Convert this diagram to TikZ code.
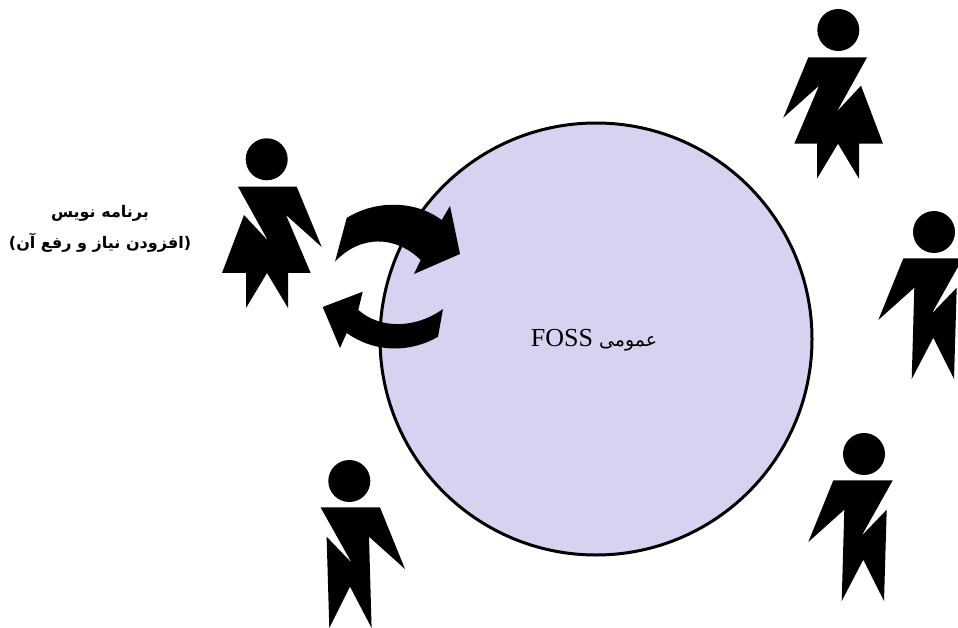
\documentclass[tikz,border=0pt]{standalone}
\usepackage{fontspec}
\setmainfont{Liberation Serif}
\newfontfamily\arabicfont[Script=Arabic]{DejaVu Sans}
\TeXXeTstate=1
\definecolor{foss}{RGB}{214,210,240}
\tikzset{
 figure/.style={fill=black,draw=none},
 turn/.style={fill=black,draw=none},
 pool/.style={fill=foss,draw=black,line width=3pt},
 woman/.pic={
  \fill[figure] (0,0) circle (21);
  \fill[figure] (-28.7,27.4) -- (30,27.4) -- (55,87.7) -- (19.3,55.7) -- (44,113.7) -- (21.3,113.7) -- (21.3,148.7) -- (0.3,113.7) -- (-20.7,148.7) -- (-20.7,113.7) -- (-44.7,113.7) -- (-22.7,55.7) -- (1.3,81.4) -- cycle;
 },
 man/.pic={
  \fill[figure] (0,0) circle (21);
  \fill[figure] (-28.7,26.4) -- (30.7,26.4) -- (55.7,88) -- (19.7,55.7) -- (22.3,147) -- (0.7,105.7) -- (-20,147) -- (-22.7,55.7) -- (2.3,81.7) -- cycle;
 }
}
\begin{document}
\begin{tikzpicture}[x=1pt,y=-1pt]
 \useasboundingbox (0,0) rectangle (958,628);
 \clip (0,0) rectangle (958,628);

 %Circle
 \draw[pool] (596,339) circle (216);
 \node[inner sep=0pt,font=\fontsize{19}{22}\selectfont] (foss) at (594,340) {\arabicfont\beginR عمومی \beginL{\rmfamily\fontsize{26}{22}\selectfont FOSS}\endL\endR};

 %People
 \pic at (266.7,159.3) {woman};
 \pic[xscale=-1] at (838.3,30) {woman};
 \pic[xscale=-1] at (934,232) {man};
 \pic[xscale=-1] at (864,454) {man};
 \pic at (349.3,481) {man};

 %Label
 \node[inner sep=0pt,align=center,font=\fontsize{16}{31}\selectfont\bfseries] (coder) at (100,229) {\arabicfont\beginR برنامه نویس\endR\\\arabicfont\beginR (افزودن نیاز و رفع آن)\endR};

 %Arrows
 \fill[turn] (335,261.7) -- (346.7,218) .. controls (375,200) and (415,200) .. (441.7,220) -- (450,206) -- (460,254) -- (414,274) -- (420.7,260) .. controls (395,235) and (360,235) .. (335,261.7) -- cycle;
 \fill[turn] (443,309) -- (438,336.7) .. controls (410,353) and (375,353) .. (346.7,333) -- (340,348) -- (322.7,307) -- (362.7,291.7) -- (358.3,310) .. controls (380,329) and (415,329) .. (443,309) -- cycle;

\end{tikzpicture}
\end{document}
